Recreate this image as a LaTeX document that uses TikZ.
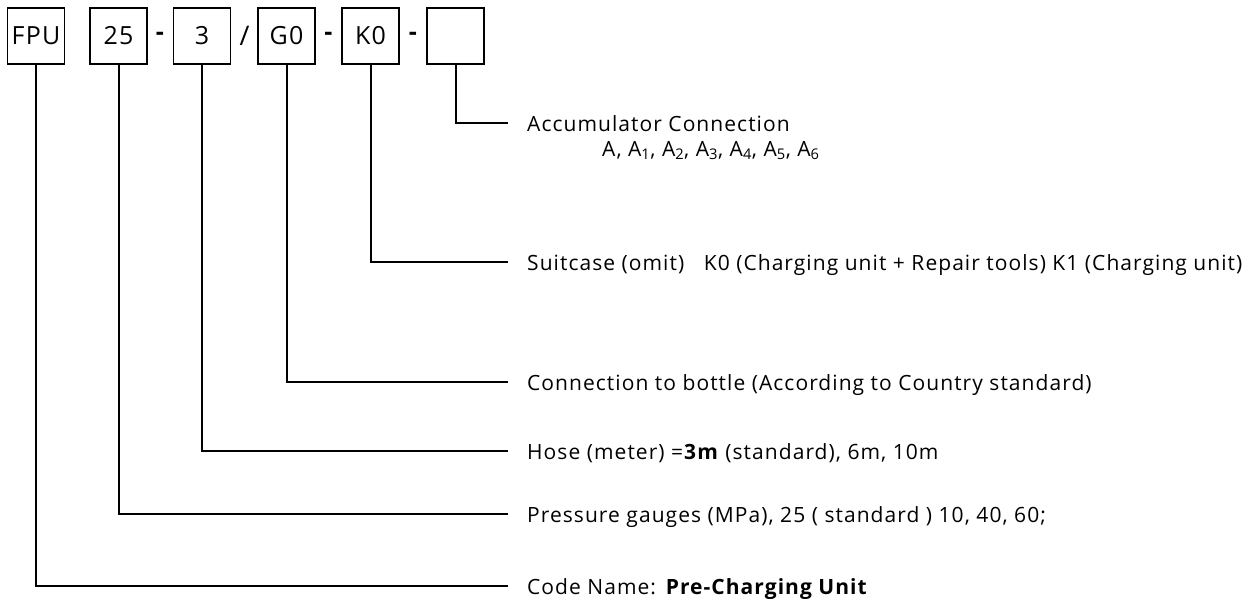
\documentclass[tikz,border=0pt]{standalone}
\usepackage{fontspec}
\setmainfont{Open Sans}[LetterSpace=5]
\usetikzlibrary{positioning, calc}

\begin{document}
\begin{tikzpicture}[x=1pt,y=-1pt,
  codebox/.style={draw, line width=1.6pt, minimum width=57pt, minimum height=56pt,
    inner sep=0pt, font=\fontsize{25}{30}\selectfont},
  sepmark/.style={inner sep=0pt, font=\fontsize{25}{30}\selectfont\bfseries},
  lead/.style={line width=2pt},
  desc/.style={anchor=base west, inner sep=0pt, font=\fontsize{21}{25}\selectfont}]
  \useasboundingbox (0,0) rectangle (1258,598);

  % Code boxes
  \node[codebox] (fpu) at (36,36) {FPU};
  \node[codebox] (gauge) at (118.5,36) {25};
  \node[codebox] (hose) at (202,36) {3};
  \node[codebox] (bottle) at (286.5,36) {G0};
  \node[codebox] (case) at (370.5,36) {K0};
  \node[codebox] (accu) at (455.5,36) {};

  % Separators
  \node[sepmark] at (160,36) {-};
  \node[sepmark, font=\fontsize{27}{30}\selectfont] at (244.5,36) {/};
  \node[sepmark] at (328.5,36) {-};
  \node[sepmark] at (413,36) {-};

  % Leader end points
  \coordinate (eaccu) at (508,123);
  \coordinate (ecase) at (508,262);
  \coordinate (ebottle) at (508,382);
  \coordinate (ehose) at (508,451);
  \coordinate (egauge) at (508,514);
  \coordinate (efpu) at (508,586);

  % Leaders
  \draw[lead] (accu.south) |- (eaccu);
  \draw[lead] (case.south) |- (ecase);
  \draw[lead] (bottle.south) |- (ebottle);
  \draw[lead] (hose.south) |- (ehose);
  \draw[lead] (gauge.south) |- (egauge);
  \draw[lead] (fpu.south) |- (efpu);

  % Descriptions
  \node[desc] (taccu) at ($(eaccu)+(19,8)$) {Accumulator Connection};
  \node[desc] (tsub) at ($(eaccu)+(94,33)$) {A, A\textsubscript{1}, A\textsubscript{2}, A\textsubscript{3}, A\textsubscript{4}, A\textsubscript{5}, A\textsubscript{6}};
  \node[desc] (tcase) at ($(ecase)+(19,8)$) {Suitcase (omit)\ \ \ K0 (Charging unit + Repair tools) K1 (Charging unit)};
  \node[desc] (tbottle) at ($(ebottle)+(19,8)$) {Connection to bottle (According to Country standard)};
  \node[desc] (those) at ($(ehose)+(19,8)$) {Hose (meter) =\textbf{3m} (standard), 6m, 10m};
  \node[desc] (tgauge) at ($(egauge)+(19,8)$) {Pressure gauges (MPa), 25 ( standard ) 10, 40, 60;};
  \node[desc] (tfpu) at ($(efpu)+(19,8)$) {Code Name: \textbf{Pre-Charging Unit}};
\end{tikzpicture}
\end{document}
